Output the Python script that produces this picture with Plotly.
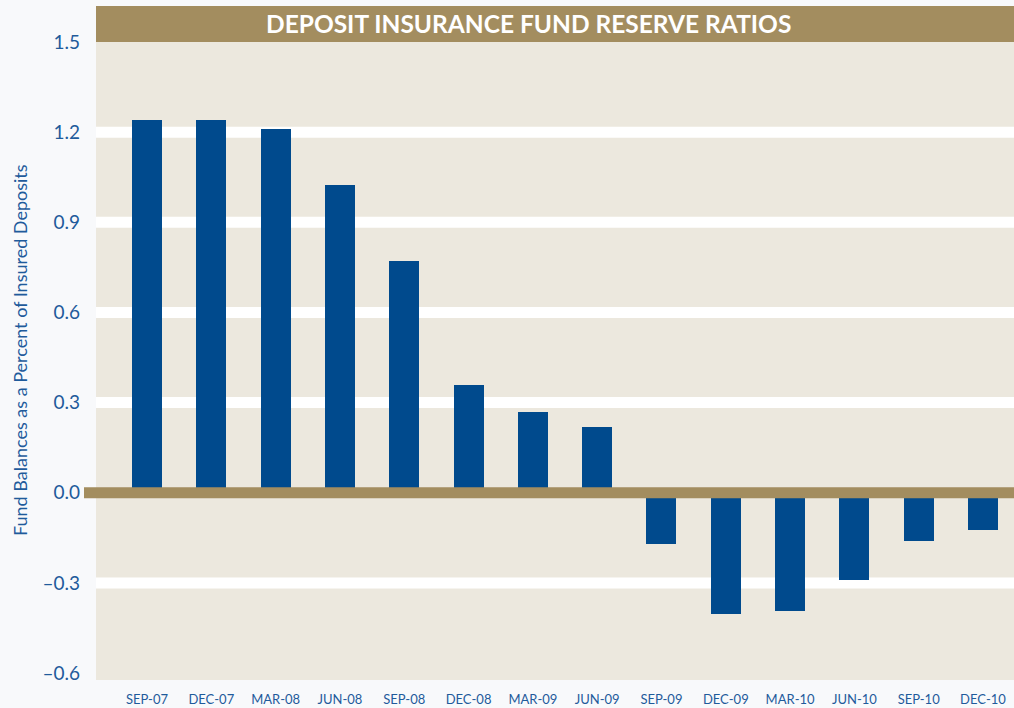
import plotly.graph_objects as go

categories = ["SEP-07", "DEC-07", "MAR-08", "JUN-08", "SEP-08", "DEC-08", "MAR-09",
              "JUN-09", "SEP-09", "DEC-09", "MAR-10", "JUN-10", "SEP-10", "DEC-10"]
reserve_ratio = [1.24, 1.24, 1.21, 1.025, 0.77, 0.36, 0.27,
                 0.22, -0.17, -0.405, -0.395, -0.29, -0.16, -0.125]
y_ticks = [-0.6, -0.3, 0.0, 0.3, 0.6, 0.9, 1.2, 1.5]
y_tick_text = ["\u20130.6", "\u20130.3", "0.0", "0.3", "0.6", "0.9", "1.2", "1.5"]
grid_values = [-0.3, 0.3, 0.6, 0.9, 1.2]

title_text = "DEPOSIT INSURANCE FUND RESERVE RATIOS"
y_title = "Fund Balances as a Percent of Insured Deposits"

BLUE = "#004a8d"
GOLD = "#a38d5f"
BEIGE = "#ece8de"
LABEL = "#1f5b9b"
FONT = "Lato"

W, H = 1014, 708
ML, MR, MT, MB = 96, 0, 42, 28
PW = W - ML - MR
PH = H - MT - MB

fig = go.Figure()
fig.add_trace(go.Bar(
    x=categories, y=reserve_ratio,
    marker=dict(color=BLUE, line=dict(width=0)),
    width=0.466, hoverinfo="x+y",
))

shapes = []
for v in grid_values:
    shapes.append(dict(type="line", xref="paper", yref="y", x0=0, x1=1, y0=v, y1=v,
                       line=dict(color="white", width=11), layer="below"))
# zero line
shapes.append(dict(type="line", xref="paper", yref="y", x0=(84 - ML) / PW, x1=1, y0=0, y1=0,
                   line=dict(color=GOLD, width=11), layer="above"))
# title band
shapes.append(dict(type="rect", xref="paper", yref="paper", x0=0, x1=1,
                   y0=1, y1=1 + 36 / PH, fillcolor=GOLD, line=dict(width=0), layer="above"))

fig.update_layout(
    width=W, height=H,
    margin=dict(l=ML, r=MR, t=MT, b=MB, pad=0),
    paper_bgcolor="#f8f9fb",
    plot_bgcolor=BEIGE,
    showlegend=False,
    shapes=shapes,
    bargap=0,
    annotations=[
        dict(text="<b>" + title_text + "</b>", xref="paper", yref="paper",
             x=(528 - ML) / PW, y=1 + (42 - 24) / PH, xanchor="center", yanchor="middle",
             showarrow=False, font=dict(family=FONT, size=24.5, color="white")),
        dict(text=y_title, xref="paper", yref="paper", textangle=-90,
             x=(20 - ML) / PW, y=1 - (350 - MT) / PH, xanchor="center", yanchor="middle",
             showarrow=False, font=dict(family=FONT, size=18, color=LABEL)),
    ],
    xaxis=dict(
        type="category", range=[-0.793, 13.482], showgrid=False, zeroline=False,
        showline=False, ticks="", tickfont=dict(family=FONT, size=13, color=LABEL),
        ticklabelstandoff=10, fixedrange=True,
    ),
    yaxis=dict(
        range=[-0.623, 1.5], tickvals=y_ticks, ticktext=y_tick_text,
        showgrid=False, zeroline=False, showline=False, ticks="",
        tickfont=dict(family=FONT, size=19, color=LABEL), ticklabelstandoff=15,
        fixedrange=True,
    ),
)

fig.write_html("out.html")
